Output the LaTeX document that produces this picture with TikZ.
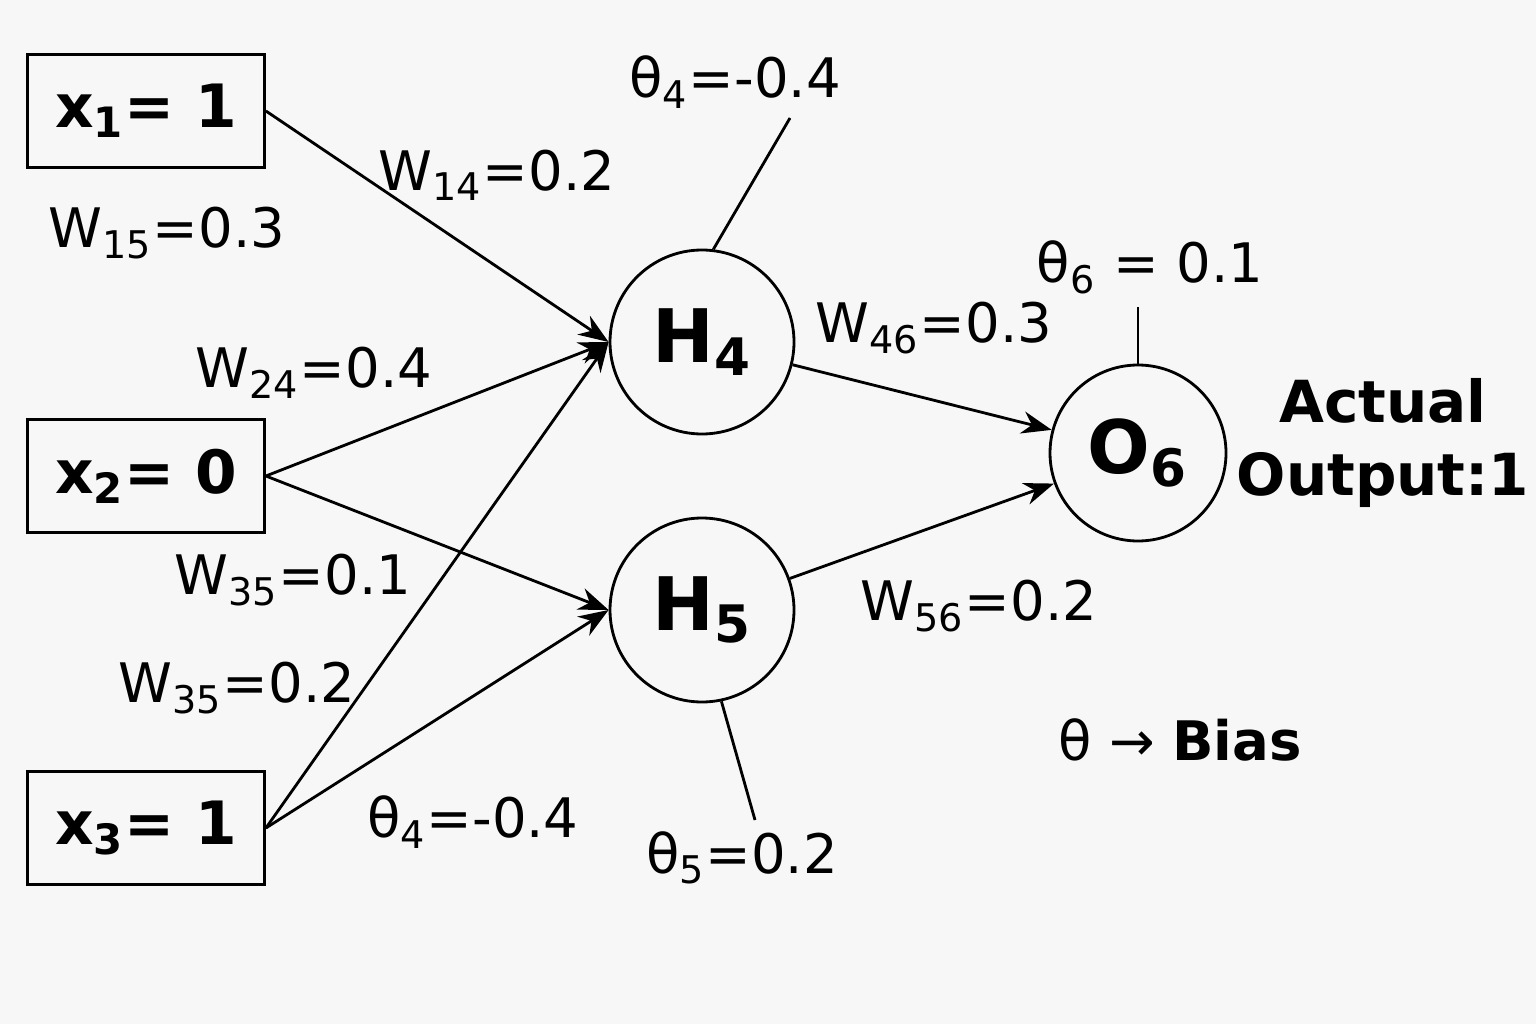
\documentclass[tikz,border=0pt]{standalone}
\usepackage{fontspec}
\setmainfont{DejaVu Sans}
\usetikzlibrary{arrows.meta}
\newcommand{\sub}[1]{\textsubscript{#1}}
\begin{document}
\begin{tikzpicture}[
  inp/.style={draw, thick, minimum width=2.37cm, minimum height=1.13cm, font=\fontsize{17}{20}\selectfont\bfseries},
  neu/.style={draw, thick, circle, minimum size=1.84cm, font=\fontsize{21}{24}\selectfont\bfseries},
  wt/.style={font=\fontsize{15.5}{19}\selectfont},
  edge/.style={thick, -{Stealth[length=3mm]}}]
\useasboundingbox (0,0) rectangle (15.36,10.24);
\fill[white!97!black] (0,0) rectangle (15.36,10.24);
% inputs
\node[inp] (x1) at (1.46,9.13) {x\sub{1}= 1};
\node[inp] (x2) at (1.46,5.48) {x\sub{2}= 0};
\node[inp] (x3) at (1.46,1.96) {x\sub{3}= 1};
% neurons
\node[neu] (h4) at (7.02,6.82) {H\sub{4}};
\node[neu] (h5) at (7.02,4.14) {H\sub{5}};
\node[neu, minimum size=1.76cm] (o6) at (11.38,5.71) {O\sub{6}};
% connections
\draw[edge] (x1.east) -- (h4.west);
\draw[edge] (x2.east) -- (h4.west);
\draw[edge] (x2.east) -- (h5.west);
\draw[edge] (x3.east) -- (h4.west);
\draw[edge] (x3.east) -- (h5.west);
\draw[edge] (h4) -- (o6.165);
\draw[edge] (h5) -- (o6.200);
% biases
\coordinate (b4) at (7.90,9.06);
\coordinate (b5) at (7.55,2.04);
\coordinate (b6) at (11.38,7.17);
\draw[thick] (h4.83) -- (b4);
\draw[thick] (h5.-78) -- (b5);
\draw[thick] (o6.north) -- (b6);
% labels
\node[wt] (t4) at (7.35,9.42) {θ\sub{4}=-0.4};
\node[wt] (t5) at (7.42,1.66) {θ\sub{5}=0.2};
\node[wt] (t6) at (11.50,7.57) {θ\sub{6} = 0.1};
\node[wt] (w14) at (4.97,8.49) {W\sub{14}=0.2};
\node[wt] (w15) at (1.67,7.91) {W\sub{15}=0.3};
\node[wt] (w24) at (3.14,6.51) {W\sub{24}=0.4};
\node[wt] (w35a) at (2.93,4.44) {W\sub{35}=0.1};
\node[wt] (w35b) at (2.37,3.36) {W\sub{35}=0.2};
\node[wt] (t4b) at (4.73,2.02) {θ\sub{4}=-0.4};
\node[wt] (w46) at (9.34,6.96) {W\sub{46}=0.3};
\node[wt] (w56) at (9.79,4.18) {W\sub{56}=0.2};
\node[font=\fontsize{16.5}{21}\selectfont\bfseries, align=center] (act) at (13.83,5.81) {Actual\\Output:1};
\node[wt] (bias) at (11.80,2.84) {θ → \textbf{Bias}};
\end{tikzpicture}
\end{document}
